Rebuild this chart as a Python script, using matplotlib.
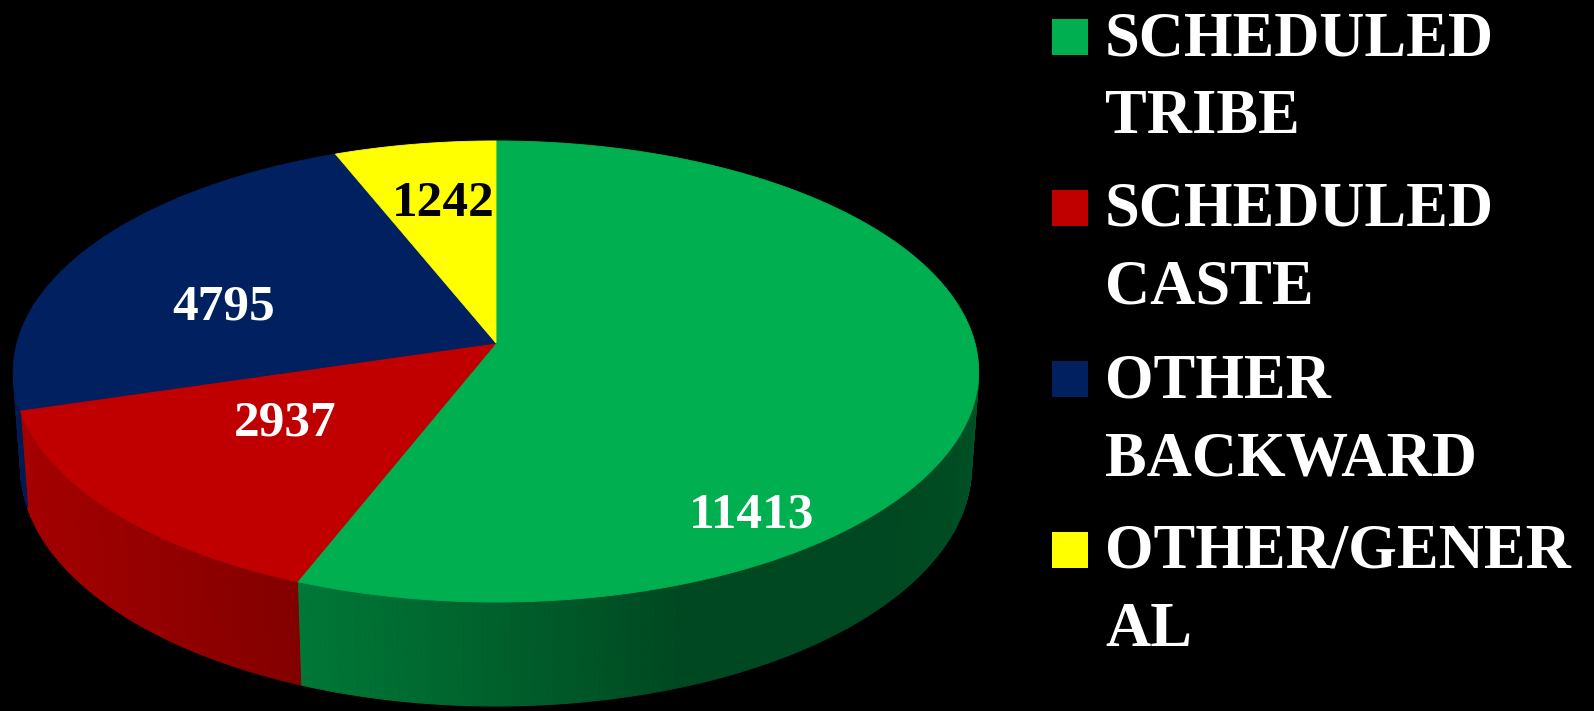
import numpy as np
import matplotlib
matplotlib.use("Agg")
import matplotlib.pyplot as plt
from matplotlib.patches import Polygon
from matplotlib.collections import PolyCollection
from matplotlib.colors import to_rgb

# ---------------- data ----------------
categories = ["SCHEDULED TRIBE", "SCHEDULED CASTE", "OTHER BACKWARD", "OTHER/GENERAL"]
legend_lines = [["SCHEDULED", "TRIBE"], ["SCHEDULED", "CASTE"],
                ["OTHER", "BACKWARD"], ["OTHER/GENER", "AL"]]
values = [11413, 2937, 4795, 1242]
colors = ["#00B050", "#C00000", "#002060", "#FFFF00"]
label_colors = ["white", "white", "white", "black"]

# ---------------- layout (pixels) ----------------
W, H = 1594, 711
label_xy = [(752, 516), (285, 424), (224, 308), (443, 204)]
FONT = "Liberation Serif"

fig = plt.figure(figsize=(W / 100, H / 100), dpi=100, facecolor="black")
ax = fig.add_axes([0, 0, 1, 1])
ax.set_xlim(0, W)
ax.set_ylim(H, 0)
ax.set_facecolor("black")
ax.axis("off")

# ---------------- perspective projection of a 3-D pie ----------------
CX, CY = 496.0, 343.0      # screen position of pie centre
S = 479.0                  # scale
ALPHA = np.arcsin(0.474)   # view tilt
K = 0.1236
L = np.cos(ALPHA) / K      # camera distance (in radii)
THICK = 0.229              # pie thickness (in radii)


def proj(X, Y, Z):
    depth = 1 + (Y * np.cos(ALPHA) - Z * np.sin(ALPHA)) / L
    sx = CX + S * X / depth
    sy = CY - S * (Y * np.sin(ALPHA) + Z * np.cos(ALPHA)) / depth
    return sx, sy


vals = np.array(values, dtype=float)
cum = np.concatenate([[0], np.cumsum(vals) / vals.sum()])
starts = 90 - 360 * cum[:-1]   # clockwise from 12 o'clock
ends = 90 - 360 * cum[1:]

# visible part of the outer wall
lim = np.degrees(np.arcsin(-1 / (L * np.cos(ALPHA))))   # about -9.2 deg
vis_lo, vis_hi = -180 - lim, lim                          # (-170.8, -9.2)


def shade(phi_deg):
    p = np.mod(phi_deg, 360)
    f = 0.41 + 0.45 * np.clip(np.cos(np.radians((p - 190) * 0.9)), 0, None)
    f = np.where(p > 290, 0.41 + 0.05 * np.clip((p - 320) / 30, 0, 1), f)
    return f


# walls
for i in range(len(values)):
    lo = max(ends[i], vis_lo)
    hi = min(starts[i], vis_hi)
    if lo >= hi:
        continue
    n = max(int((hi - lo) / 0.5), 2)
    ph = np.linspace(lo, hi, n + 1)
    r = np.radians(ph)
    tx, ty = proj(np.cos(r), np.sin(r), 0.0)
    bx, by = proj(np.cos(r), np.sin(r), -THICK)
    polys, cols = [], []
    base = np.array(to_rgb(colors[i]))
    for j in range(n):
        polys.append([(tx[j], ty[j]), (tx[j + 1], ty[j + 1]),
                      (bx[j + 1], by[j + 1]), (bx[j], by[j])])
        c = np.clip(base * shade(0.5 * (ph[j] + ph[j + 1])), 0, 1)
        cols.append(c)
    pc = PolyCollection(polys, facecolors=cols, edgecolors=cols, linewidths=0.8)
    ax.add_collection(pc)

# top faces
for i in range(len(values)):
    ph = np.radians(np.linspace(starts[i], ends[i], 200))
    x, y = proj(np.cos(ph), np.sin(ph), 0.0)
    pts = np.column_stack([np.concatenate([[CX], x]), np.concatenate([[CY], y])])
    ax.add_patch(Polygon(pts, closed=True, facecolor=colors[i],
                         edgecolor=colors[i], linewidth=0.6))

# data labels
for i, v in enumerate(values):
    ax.text(label_xy[i][0], label_xy[i][1], f"{v}", color=label_colors[i],
            fontsize=37, fontweight="bold", family=FONT,
            ha="center", va="center")

# legend
for i, lines in enumerate(legend_lines):
    base_y = 55 + i * 171
    ax.add_patch(plt.Rectangle((1052, base_y - 36), 36, 36,
                               facecolor=colors[i], edgecolor="none"))
    for k, line in enumerate(lines):
        ax.text(1105, base_y + k * 78, line, color="white", fontsize=45,
                fontweight="bold", family=FONT, ha="left", va="baseline")

fig.savefig("out.png", dpi=100, facecolor="black")
